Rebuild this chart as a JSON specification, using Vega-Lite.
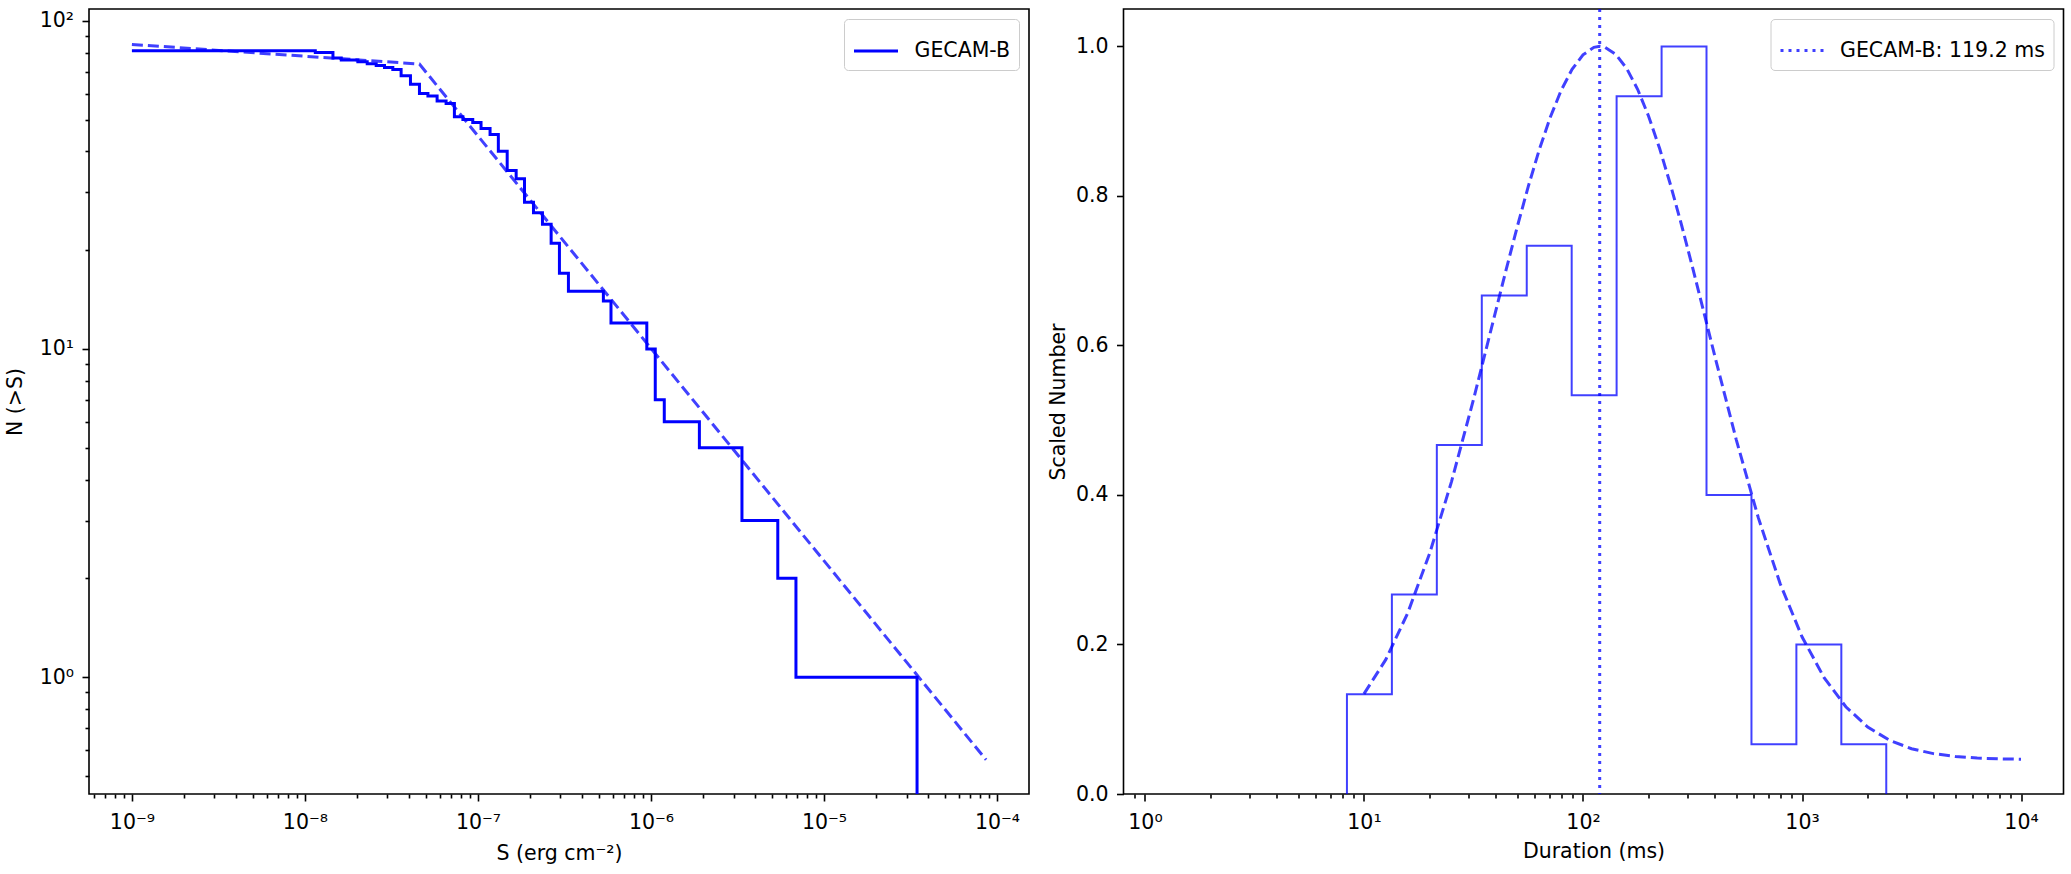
{
  "$schema": "https://vega.github.io/schema/vega-lite/v6.json",
  "background": "white",
  "padding": {"left": 4, "top": 6, "right": 8, "bottom": 5},
  "bounds": "flush",
  "spacing": 94.5,
  "resolve": {"scale": {"color": "independent"}, "legend": {"color": "independent"}},
  "config": {
    "font": "DejaVu Sans",
    "view": {"stroke": "black", "strokeWidth": 1.6},
    "axis": {
      "labelFont": "DejaVu Sans", "labelFontSize": 20.5, "labelColor": "black",
      "titleFont": "DejaVu Sans", "titleFontSize": 20.5, "titleFontWeight": "normal", "titleColor": "black",
      "tickColor": "black", "tickWidth": 1.6, "domain": false, "grid": false, "labelOverlap": false
    },
    "legend": {
      "labelFont": "DejaVu Sans", "labelFontSize": 20.5, "labelColor": "black", "labelLimit": 400,
      "strokeColor": "#cccccc", "fillColor": "#ffffff", "cornerRadius": 4, "padding": 8.5
    }
  },
  "datasets": {
    "cumulative": [
      {"S": 1e-9, "N": 81, "series": "GECAM-B"},
      {"S": 1.148e-8, "N": 80, "series": "GECAM-B"},
      {"S": 1.452e-8, "N": 77, "series": "GECAM-B"},
      {"S": 1.622e-8, "N": 76, "series": "GECAM-B"},
      {"S": 2.023e-8, "N": 75, "series": "GECAM-B"},
      {"S": 2.291e-8, "N": 74, "series": "GECAM-B"},
      {"S": 2.582e-8, "N": 73, "series": "GECAM-B"},
      {"S": 2.884e-8, "N": 72, "series": "GECAM-B"},
      {"S": 3.221e-8, "N": 71, "series": "GECAM-B"},
      {"S": 3.597e-8, "N": 68, "series": "GECAM-B"},
      {"S": 4.074e-8, "N": 64, "series": "GECAM-B"},
      {"S": 4.592e-8, "N": 60, "series": "GECAM-B"},
      {"S": 5.14e-8, "N": 59, "series": "GECAM-B"},
      {"S": 5.808e-8, "N": 57, "series": "GECAM-B"},
      {"S": 6.546e-8, "N": 56, "series": "GECAM-B"},
      {"S": 7.311e-8, "N": 51, "series": "GECAM-B"},
      {"S": 8.185e-8, "N": 50, "series": "GECAM-B"},
      {"S": 9.333e-8, "N": 49, "series": "GECAM-B"},
      {"S": 1.042e-7, "N": 47, "series": "GECAM-B"},
      {"S": 1.175e-7, "N": 45, "series": "GECAM-B"},
      {"S": 1.312e-7, "N": 40, "series": "GECAM-B"},
      {"S": 1.476e-7, "N": 35, "series": "GECAM-B"},
      {"S": 1.663e-7, "N": 33, "series": "GECAM-B"},
      {"S": 1.858e-7, "N": 28, "series": "GECAM-B"},
      {"S": 2.094e-7, "N": 26, "series": "GECAM-B"},
      {"S": 2.36e-7, "N": 24, "series": "GECAM-B"},
      {"S": 2.649e-7, "N": 21, "series": "GECAM-B"},
      {"S": 2.958e-7, "N": 17, "series": "GECAM-B"},
      {"S": 3.334e-7, "N": 15, "series": "GECAM-B"},
      {"S": 5.309e-7, "N": 14, "series": "GECAM-B"},
      {"S": 5.875e-7, "N": 12, "series": "GECAM-B"},
      {"S": 9.462e-7, "N": 10, "series": "GECAM-B"},
      {"S": 1.059e-6, "N": 7, "series": "GECAM-B"},
      {"S": 1.194e-6, "N": 6, "series": "GECAM-B"},
      {"S": 1.905e-6, "N": 5, "series": "GECAM-B"},
      {"S": 3.357e-6, "N": 3, "series": "GECAM-B"},
      {"S": 5.408e-6, "N": 2, "series": "GECAM-B"},
      {"S": 6.887e-6, "N": 1, "series": "GECAM-B"},
      {"S": 3.451e-5, "N": 0.3, "series": "GECAM-B"}
    ],
    "fit_left": [
      {"S": 1e-9, "N": 84.7},
      {"S": 4.59e-8, "N": 73.8},
      {"S": 8.65e-5, "N": 0.56}
    ],
    "hist": [
      {"i": 0, "T": 8.36, "v": 0},
      {"i": 1, "T": 8.36, "v": 0.1333},
      {"i": 2, "T": 13.41, "v": 0.2667},
      {"i": 3, "T": 21.51, "v": 0.4667},
      {"i": 4, "T": 34.51, "v": 0.6667},
      {"i": 5, "T": 55.36, "v": 0.7333},
      {"i": 6, "T": 88.79, "v": 0.5333},
      {"i": 7, "T": 142.4, "v": 0.9333},
      {"i": 8, "T": 228.5, "v": 1.0},
      {"i": 9, "T": 366.4, "v": 0.4},
      {"i": 10, "T": 587.8, "v": 0.0667},
      {"i": 11, "T": 942.6, "v": 0.2},
      {"i": 12, "T": 1512, "v": 0.0667},
      {"i": 13, "T": 2425, "v": 0}
    ],
    "fit_right": [
      {"T": 10, "v": 0.1339},
      {"T": 12.59, "v": 0.18},
      {"T": 15.85, "v": 0.2423},
      {"T": 19.95, "v": 0.3219},
      {"T": 25.12, "v": 0.4182},
      {"T": 31.62, "v": 0.5276},
      {"T": 39.81, "v": 0.6442},
      {"T": 44.67, "v": 0.7024},
      {"T": 50.12, "v": 0.7589},
      {"T": 56.23, "v": 0.8124},
      {"T": 63.1, "v": 0.8615},
      {"T": 70.79, "v": 0.9047},
      {"T": 79.43, "v": 0.941},
      {"T": 89.13, "v": 0.9693},
      {"T": 100, "v": 0.9887},
      {"T": 112.2, "v": 0.9987},
      {"T": 119.2, "v": 1.0},
      {"T": 125.9, "v": 0.9989},
      {"T": 141.3, "v": 0.9893},
      {"T": 158.5, "v": 0.9702},
      {"T": 177.8, "v": 0.9423},
      {"T": 199.5, "v": 0.9063},
      {"T": 223.9, "v": 0.8633},
      {"T": 251.2, "v": 0.8144},
      {"T": 281.8, "v": 0.7611},
      {"T": 316.2, "v": 0.7047},
      {"T": 354.8, "v": 0.6465},
      {"T": 398.1, "v": 0.5879},
      {"T": 501.2, "v": 0.4737},
      {"T": 631, "v": 0.37},
      {"T": 794.3, "v": 0.2815},
      {"T": 1000, "v": 0.2103},
      {"T": 1259, "v": 0.156},
      {"T": 1585, "v": 0.1167},
      {"T": 1995, "v": 0.0896},
      {"T": 2512, "v": 0.0718},
      {"T": 3162, "v": 0.0606},
      {"T": 3981, "v": 0.054},
      {"T": 5012, "v": 0.0502},
      {"T": 6310, "v": 0.0481},
      {"T": 7943, "v": 0.047},
      {"T": 10000, "v": 0.0465}
    ],
    "peak": [
      {"T": 119.2, "label": "GECAM-B: 119.2 ms"}
    ]
  },
  "hconcat": [
    {
      "width": 940,
      "height": 785,
      "layer": [
        {
          "data": {"name": "cumulative"},
          "mark": {"type": "line", "interpolate": "step-after", "clip": true, "strokeWidth": 3},
          "encoding": {
            "x": {
              "field": "S", "type": "quantitative",
              "scale": {"type": "log", "domain": [5.65e-10, 1.531e-4], "nice": false},
              "axis": {
                "title": "S (erg cm⁻²)",
                "values": [6e-10, 7e-10, 8e-10, 9e-10, 1e-9, 2e-9, 3e-9, 4e-9, 5e-9, 6e-9, 7e-9, 8e-9, 9e-9, 1e-8, 2e-8, 3e-8, 4e-8, 5e-8, 6e-8, 7e-8, 8e-8, 9e-8, 1e-7, 2e-7, 3e-7, 4e-7, 5e-7, 6e-7, 7e-7, 8e-7, 9e-7, 1e-6, 2e-6, 3e-6, 4e-6, 5e-6, 6e-6, 7e-6, 8e-6, 9e-6, 1e-5, 2e-5, 3e-5, 4e-5, 5e-5, 6e-5, 7e-5, 8e-5, 9e-5, 1e-4],
                "labelExpr": "abs(log(datum.value)/LN10 - round(log(datum.value)/LN10)) < 0.001 ? '10' + (round(log(datum.value)/LN10) < 0 ? '⁻' : '') + ['⁰','¹','²','³','⁴','⁵','⁶','⁷','⁸','⁹'][abs(round(log(datum.value)/LN10))] : ''",
                "tickSize": {"condition": {"test": "abs(log(datum.value)/LN10 - round(log(datum.value)/LN10)) < 0.001", "value": 7}, "value": 4},
                "labelPadding": 11,
                "titlePadding": 11,
                "labelFlush": false
              }
            },
            "y": {
              "field": "N", "type": "quantitative",
              "scale": {"type": "log", "domain": [0.4406, 108.6], "nice": false},
              "axis": {
                "title": "N (>S)",
                "values": [0.5, 0.6, 0.7, 0.8, 0.9, 1, 2, 3, 4, 5, 6, 7, 8, 9, 10, 20, 30, 40, 50, 60, 70, 80, 90, 100],
                "labelExpr": "abs(log(datum.value)/LN10 - round(log(datum.value)/LN10)) < 0.001 ? '10' + (round(log(datum.value)/LN10) < 0 ? '⁻' : '') + ['⁰','¹','²','³','⁴','⁵','⁶','⁷','⁸','⁹'][abs(round(log(datum.value)/LN10))] : ''",
                "tickSize": {"condition": {"test": "abs(log(datum.value)/LN10 - round(log(datum.value)/LN10)) < 0.001", "value": 7}, "value": 4},
                "labelPadding": 8.5,
                "titlePadding": 14
              }
            },
            "color": {
              "field": "series", "type": "nominal",
              "scale": {"domain": ["GECAM-B"], "range": ["#0000ff"]},
              "legend": {
                "title": null, "orient": "top-right", "offset": 10,
                "symbolType": "stroke", "symbolSize": 1936, "symbolStrokeWidth": 3, "labelOffset": 15
              }
            }
          }
        },
        {
          "data": {"name": "fit_left"},
          "mark": {"type": "line", "clip": true, "color": "#0000ff", "opacity": 0.75, "strokeWidth": 3, "strokeDash": [11, 5]},
          "encoding": {
            "x": {"field": "S", "type": "quantitative"},
            "y": {"field": "N", "type": "quantitative"}
          }
        }
      ]
    },
    {
      "width": 940,
      "height": 785,
      "layer": [
        {
          "data": {"name": "hist"},
          "mark": {"type": "line", "interpolate": "step-after", "clip": true, "color": "#0000ff", "opacity": 0.75, "strokeWidth": 2},
          "encoding": {
            "x": {
              "field": "T", "type": "quantitative",
              "scale": {"type": "log", "domain": [0.798, 15630], "nice": false},
              "axis": {
                "title": "Duration (ms)",
                "values": [0.9, 1, 2, 3, 4, 5, 6, 7, 8, 9, 10, 20, 30, 40, 50, 60, 70, 80, 90, 100, 200, 300, 400, 500, 600, 700, 800, 900, 1000, 2000, 3000, 4000, 5000, 6000, 7000, 8000, 9000, 10000],
                "labelExpr": "abs(log(datum.value)/LN10 - round(log(datum.value)/LN10)) < 0.001 ? '10' + (round(log(datum.value)/LN10) < 0 ? '⁻' : '') + ['⁰','¹','²','³','⁴','⁵','⁶','⁷','⁸','⁹'][abs(round(log(datum.value)/LN10))] : ''",
                "tickSize": {"condition": {"test": "abs(log(datum.value)/LN10 - round(log(datum.value)/LN10)) < 0.001", "value": 7}, "value": 4},
                "labelPadding": 11,
                "titlePadding": 9,
                "labelFlush": false
              }
            },
            "y": {
              "field": "v", "type": "quantitative",
              "scale": {"domain": [0, 1.05], "nice": false, "zero": false},
              "axis": {
                "title": "Scaled Number",
                "values": [0, 0.2, 0.4, 0.6, 0.8, 1.0],
                "format": ".1f",
                "tickSize": 7,
                "labelPadding": 8.5,
                "titlePadding": 7
              }
            },
            "order": {"field": "i", "type": "quantitative"}
          }
        },
        {
          "data": {"name": "fit_right"},
          "mark": {"type": "line", "clip": true, "color": "#0000ff", "opacity": 0.75, "strokeWidth": 3, "strokeDash": [11, 5]},
          "encoding": {
            "x": {"field": "T", "type": "quantitative"},
            "y": {"field": "v", "type": "quantitative"}
          }
        },
        {
          "data": {"name": "peak"},
          "mark": {"type": "rule", "opacity": 0.75, "strokeWidth": 3, "strokeDash": [3, 5]},
          "encoding": {
            "x": {"field": "T", "type": "quantitative"},
            "color": {
              "field": "label", "type": "nominal",
              "scale": {"domain": ["GECAM-B: 119.2 ms"], "range": ["#0000ff"]},
              "legend": {
                "title": null, "orient": "top-right", "offset": 10,
                "symbolType": "stroke", "symbolSize": 1849, "symbolStrokeWidth": 3,
                "symbolDash": [3, 5], "symbolOpacity": 0.75, "labelOffset": 15
              }
            }
          }
        }
      ]
    }
  ]
}
